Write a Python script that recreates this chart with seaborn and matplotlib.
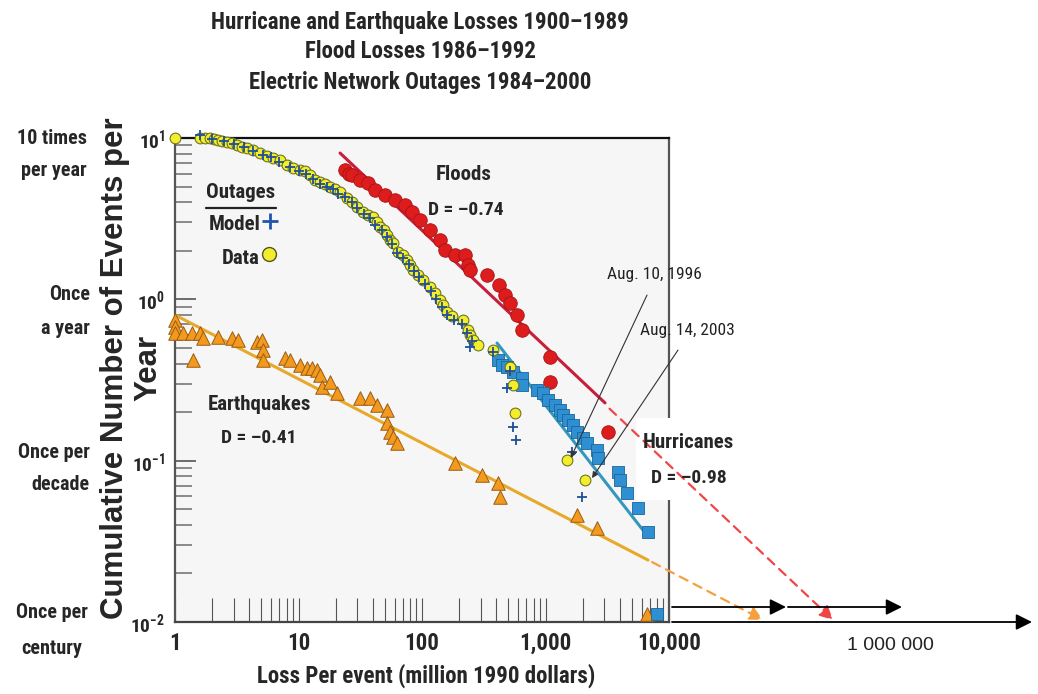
import matplotlib
matplotlib.use("Agg")
import matplotlib.pyplot as plt
import seaborn as sns
from matplotlib import font_manager
from matplotlib.font_manager import FontProperties
from matplotlib.lines import Line2D
from matplotlib.patches import FancyArrowPatch, Rectangle
from matplotlib.ticker import LogLocator, NullFormatter

# Data (loss in million 1990 dollars, events per year)
eq_loss = [1.0, 1.0, 1.0, 1.16, 1.37, 1.40, 1.59, 1.69, 2.23, 2.90, 3.24, 4.61, 5.06, 5.16,
           5.16, 7.78, 8.53, 10.3, 11.7, 12.9, 14.1, 14.9, 15.5, 18.0, 20.5, 31.5, 37.9, 43.2,
           52.1, 52.1, 55.1, 58.2, 62.8, 185, 306, 412, 428, 1799, 2612, 6637]
eq_rate = [0.745, 0.673, 0.618, 0.618, 0.618, 0.421, 0.618, 0.575, 0.583, 0.575, 0.560, 0.543,
           0.560, 0.485, 0.421, 0.433, 0.421, 0.392, 0.375, 0.375, 0.365, 0.340, 0.286, 0.307,
           0.262, 0.244, 0.244, 0.221, 0.206, 0.171, 0.150, 0.140, 0.129, 0.0966, 0.0814,
           0.0726, 0.0595, 0.0460, 0.0382, 0.0112]

fl_loss = [23.8, 25.5, 27.1, 31.5, 36.5, 41.6, 50.1, 60.4, 72.8, 83.0, 96.3, 116, 140, 154,
           185, 223, 236, 245, 336, 420, 470, 516, 588, 645, 1087, 1087, 3206]
fl_rate = [6.34, 6.0, 5.90, 5.49, 5.26, 4.76, 4.43, 4.13, 3.84, 3.48, 3.10, 2.69, 2.33, 2.02,
           1.88, 1.88, 1.63, 1.52, 1.42, 1.23, 1.06, 0.95, 0.80, 0.646, 0.439, 0.307, 0.150]

hu_loss = [412, 444, 488, 546, 645, 645, 854, 955, 1047, 1194, 1310, 1386, 1521, 1671, 1799,
           2013, 2168, 2612, 2661, 3864, 4009, 4571, 5610, 6761, 7998]
hu_rate = [0.421, 0.392, 0.380, 0.354, 0.325, 0.294, 0.274, 0.262, 0.238, 0.221, 0.206, 0.192,
           0.179, 0.166, 0.150, 0.138, 0.129, 0.116, 0.104, 0.0850, 0.0758, 0.0630, 0.0508,
           0.0361, 0.0112]

out_loss = [1.0, 1.59, 1.75, 1.92, 2.07, 2.23, 2.4, 2.64, 2.9, 3.18, 3.5, 3.83, 4.3, 4.88, 5.6,
            6.22, 7.1, 8.07, 9.0, 10.3, 11.3, 12.4, 13.6, 14.9, 16.4, 18.0, 19.7, 21.7, 24.7,
            27.1, 29.8, 33.3, 36.5, 40.1, 43.2, 45.7, 49, 52.1, 55, 58.2, 64.0, 70, 75.6, 80,
            84.5, 93, 102, 116, 127, 140, 147, 159, 175, 215, 236, 245, 259, 283, 376, 516,
            546, 566, 1493, 2089]
out_rate = [10, 10, 10, 10, 9.86, 9.72, 9.58, 9.45, 9.3, 9.05, 8.8, 8.67, 8.4, 8.07, 7.7, 7.52,
            7.3, 6.80, 6.5, 6.34, 6.2, 5.90, 5.5, 5.34, 5.2, 4.97, 4.8, 4.63, 4.25, 4.0, 3.73,
            3.48, 3.35, 3.24, 3.0, 2.81, 2.7, 2.51, 2.33, 2.23, 1.96, 1.88, 1.75, 1.63, 1.52,
            1.42, 1.32, 1.19, 1.10, 0.99, 0.92, 0.834, 0.79, 0.745, 0.646, 0.60, 0.560, 0.52,
            0.485, 0.380, 0.294, 0.197, 0.101, 0.0758]

model_loss = [1.6, 2.0, 2.5, 3.0, 3.6, 4.3, 5.2, 6.0, 7.0, 8.5, 10, 11.5, 13, 15, 17, 19, 21,
              24, 27, 30, 34, 38, 42, 47, 52, 57, 63, 70, 78, 86, 95, 105, 118, 130, 145, 160,
              180, 210, 232, 245, 255, 376, 488, 516, 546, 577, 1640, 1976]
model_rate = [10.4, 9.9, 9.6, 9.2, 8.8, 8.3, 7.9, 7.6, 7.1, 6.6, 6.2, 6.0, 5.6, 5.2, 5.0, 4.8,
              4.5, 4.3, 4.0, 3.7, 3.4, 3.2, 2.9, 2.7, 2.45, 2.2, 1.95, 1.8, 1.65, 1.5, 1.38,
              1.25, 1.12, 1.0, 0.9, 0.8, 0.74, 0.7, 0.62, 0.506, 0.55, 0.47, 0.282, 0.36, 0.162,
              0.134, 0.113, 0.0595]

# power-law fits and their extrapolations
fl_fit_x, fl_fit_y = [21.7, 3034], [8.07, 0.228]
hu_fit_x, hu_fit_y = [405, 6152], [0.536, 0.0371]
eq_fit_x, eq_fit_y = [1.0, 6761], [0.80, 0.0242]
fl_ext_x, fl_ext_y = [3300, 212800], [0.21, 0.0103]
eq_ext_x, eq_ext_y = [7300, 57700], [0.0235, 0.0103]

x_ticks = [1, 10, 100, 1000, 10000]
x_labels = ["1", "10", "100", "1,000", "10,000"]
y_ticks = [1e-2, 1e-1, 1, 10]
y_labels = [r"$\mathregular{10^{-2}}$", r"$\mathregular{10^{-1}}$",
            r"$\mathregular{10^{0}}$", r"$\mathregular{10^{1}}$"]

sns.set_theme(style="ticks")
plt.rcParams["font.family"] = ["Liberation Sans", "DejaVu Sans"]


# look for a narrow / condensed face (the chart uses Arial Narrow style text)
def find_narrow(bold):
    prefs = ["liberation", "roboto", "dejavu", "open sans", "noto"]
    best, best_rank = None, 99
    for f in font_manager.fontManager.ttflist:
        tag = (f.name + " " + f.fname).lower()
        if not ("narrow" in tag or "condensed" in tag or "cond" in f.fname.lower()
                or str(f.stretch) in ("condensed", "semi-condensed", "extra-condensed")):
            continue
        if "italic" in tag or "oblique" in tag or f.style != "normal":
            continue
        w = f.weight if isinstance(f.weight, int) else (700 if "bold" in str(f.weight) else 400)
        if (w >= 600) != bold or "light" in tag or "black" in tag or "semi" in tag:
            continue
        rank = next((i for i, p in enumerate(prefs) if p in tag), 50)
        if rank < best_rank:
            best, best_rank = f.fname, rank
    return best


nb, nr = find_narrow(True), find_narrow(False)
scale = 1.0 if nb else 0.82


def fp(size, bold=True):
    path = nb if bold else nr
    if path:
        return FontProperties(fname=path, size=size)
    return FontProperties(family="Liberation Sans", weight="bold" if bold else "normal",
                          size=size * scale)


W, H = 1038, 694


def fpx(x, y):
    return (x / W, 1 - y / H)


fig = plt.figure(figsize=(W / 100, H / 100), dpi=100)
ax = fig.add_axes([175 / W, 1 - 622 / H, 494 / W, 484 / H])
ax.set_facecolor("#f6f6f6")
ax.set_xscale("log")
ax.set_yscale("log")

# fit lines
sns.lineplot(x=eq_fit_x, y=eq_fit_y, color="#e8a92a", lw=2.2, ax=ax, zorder=2)
sns.lineplot(x=fl_fit_x, y=fl_fit_y, color="#c81e3c", lw=2.2, ax=ax, zorder=2)
sns.lineplot(x=hu_fit_x, y=hu_fit_y, color="#3597bd", lw=2.2, ax=ax, zorder=2)

# data points
sns.scatterplot(x=eq_loss, y=eq_rate, marker="^", s=95, color="#f39a1e", edgecolor="#9a5c12",
                linewidth=0.7, ax=ax, zorder=3, clip_on=False)
sns.scatterplot(x=fl_loss, y=fl_rate, marker="o", s=95, color="#dd1d1d", edgecolor="#a81212",
                linewidth=0.6, ax=ax, zorder=3, clip_on=False)
sns.scatterplot(x=hu_loss, y=hu_rate, marker="s", s=80, color="#2e8fd2", edgecolor="#1d6597",
                linewidth=0.6, ax=ax, zorder=3, clip_on=False)
sns.scatterplot(x=out_loss, y=out_rate, marker="o", s=60, color="#f2ee2c", edgecolor="#6f7420",
                linewidth=0.8, ax=ax, zorder=3, clip_on=False)
sns.scatterplot(x=model_loss, y=model_rate, marker="+", s=60, color="#1f4f99", linewidth=1.3,
                ax=ax, zorder=4, clip_on=False)

# dashed extrapolations with arrow heads (outside the box)
for ex, ey, col in [(fl_ext_x, fl_ext_y, "#f04646"), (eq_ext_x, eq_ext_y, "#f5a03c")]:
    ax.annotate("", xy=(ex[1], ey[1]), xytext=(ex[0], ey[0]), annotation_clip=False,
                arrowprops=dict(arrowstyle="-|>", color=col, lw=1.6, linestyle=(0, (4, 3)),
                                mutation_scale=20, shrinkA=0, shrinkB=0), zorder=4)

# event annotations
ax.annotate("", xy=(1600, 0.104), xytext=(6637, 1.063), annotation_clip=False,
            arrowprops=dict(arrowstyle="-|>", color="#333333", lw=0.8, mutation_scale=9,
                            shrinkA=0, shrinkB=0), zorder=5)
ax.annotate("", xy=(2380, 0.078), xytext=(11830, 0.485), annotation_clip=False,
            arrowprops=dict(arrowstyle="-|>", color="#333333", lw=0.8, mutation_scale=9,
                            shrinkA=0, shrinkB=0), zorder=5)

# white box behind the hurricane label (covers the right frame)
ax.add_patch(Rectangle(fpx(636, 500), 110 / W, 82 / H, transform=fig.transFigure,
                       facecolor="white", edgecolor="none", zorder=2.6, clip_on=False))

ax.set_xlim(1, 1e4)
ax.set_ylim(1e-2, 1e1)
ax.set_xticks(x_ticks, x_labels)
ax.set_yticks(y_ticks, y_labels)
ax.xaxis.set_minor_locator(LogLocator(base=10, subs=range(2, 10), numticks=20))
ax.yaxis.set_minor_locator(LogLocator(base=10, subs=range(2, 10), numticks=20))
ax.xaxis.set_minor_formatter(NullFormatter())
ax.yaxis.set_minor_formatter(NullFormatter())
ax.tick_params(axis="x", which="both", direction="in", length=17, width=0.8,
               color="#555555", pad=7)
ax.tick_params(axis="y", which="major", direction="in", length=15, width=1.2,
               color="#555555", pad=7)
ax.tick_params(axis="y", which="minor", direction="in", length=12, width=1.2, color="#777777")
for lab in ax.get_xticklabels():
    lab.set_fontproperties(fp(16.5))
for lab in ax.get_yticklabels():
    lab.set_fontproperties(fp(14))
for side, col in [("left", "#555555"), ("bottom", "#444444"), ("top", "#111111"),
                  ("right", "#555555")]:
    ax.spines[side].set_color(col)
    ax.spines[side].set_linewidth(1.6)

# titles and axis labels
for line, y in [("Hurricane and Earthquake Losses 1900\u20131989", 22),
                ("Flood Losses 1986\u20131992", 52),
                ("Electric Network Outages 1984\u20132000", 82)]:
    fig.text(*fpx(420, y), line, ha="center", va="center", fontproperties=fp(16.5))

fig.text(*fpx(426, 676), "Loss Per event (million 1990 dollars)", ha="center", va="center",
         fontproperties=fp(16.5))
for line, x in [("Cumulative Number of Events per", 115), ("Year", 148)]:
    fig.text(*fpx(x, 368), line, rotation=90, ha="center", va="center", fontsize=22.5,
             fontweight="bold", family=["Liberation Sans", "DejaVu Sans"])

for line, x, y in [("10 times", 87, 138), ("per year", 87, 170), ("Once", 90, 295),
                   ("a year", 90, 328), ("Once per", 90, 452), ("decade", 90, 485),
                   ("Once per", 88, 612), ("century", 82, 648)]:
    fig.text(*fpx(x, y), line, ha="right", va="center", fontproperties=fp(14.5))

# in-plot labels
for line, x, y, size in [("Floods", 464, 175, 15), ("D = \u20130.74", 466, 210, 14),
                         ("Earthquakes", 259, 405, 15), ("D = \u20130.41", 259, 438, 14),
                         ("Hurricanes", 688, 443, 15), ("D = \u20130.98", 689, 478, 14),
                         ("Outages", 241, 193, 15), ("Model", 235, 225, 15),
                         ("Data", 241, 258, 15)]:
    fig.text(*fpx(x, y), line, ha="center", va="center", fontproperties=fp(size), zorder=6)
fig.add_artist(Line2D([206 / W, 276 / W], [1 - 208 / H, 1 - 208 / H], color="#222222", lw=1.6))
ax.plot([0.193], [0.828], marker="+", ms=11, mew=2, color="#2255aa",
        transform=ax.transAxes, clip_on=False)
ax.plot([0.19], [0.76], marker="o", ms=10, mfc="#f2ee2c", mec="#555520", mew=1,
        transform=ax.transAxes, clip_on=False)

fig.text(*fpx(654, 274), "Aug. 10, 1996", ha="center", va="center",
         fontproperties=fp(12.5, bold=False), color="#222222")
fig.text(*fpx(687, 330), "Aug. 14, 2003", ha="center", va="center",
         fontproperties=fp(12.5, bold=False), color="#222222")

# arrows along the extended loss axis
for x0, y0, x1, y1 in [(672, 607, 786, 607), (788, 607, 902, 607), (672, 622, 1032, 622)]:
    fig.add_artist(FancyArrowPatch(fpx(x0, y0), fpx(x1, y1), transform=fig.transFigure,
                                   arrowstyle="-|>", mutation_scale=24, color="black",
                                   lw=1.3, shrinkA=0, shrinkB=0))
fig.text(*fpx(890, 645), "1 000 000", ha="center", va="center", fontsize=14,
         color="#222222", family=["Liberation Sans", "DejaVu Sans"])

fig.savefig("out.png", dpi=100)
